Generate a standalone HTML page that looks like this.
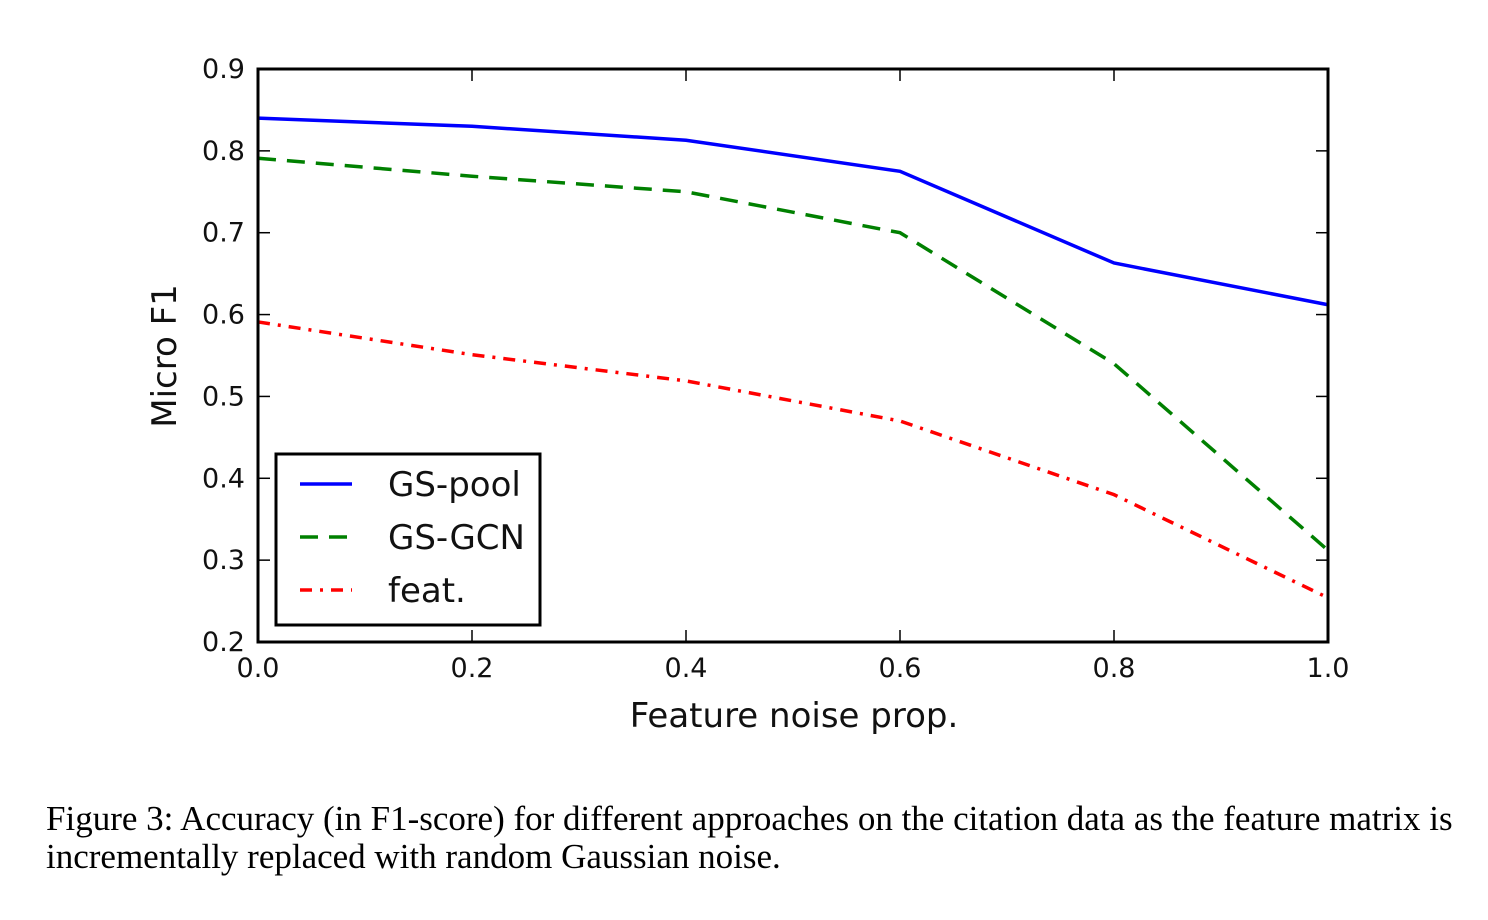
<!DOCTYPE html>
<html><head><meta charset="utf-8"><style>
body{margin:0;background:#fff;width:1488px;height:920px;overflow:hidden}
svg text{font-family:"DejaVu Sans","Liberation Sans",sans-serif;fill:#111}
.cap{position:absolute;left:46px;top:800px;font-family:"Liberation Serif",serif;font-size:35px;line-height:38px;color:#000;width:1430px;white-space:nowrap}
</style></head><body>
<svg id="chart" width="1488" height="920" style="position:absolute;left:0;top:0"></svg>
<div class="cap">Figure 3: Accuracy (in F1-score) for different approaches on the citation data as the feature matrix is<br>incrementally replaced with random Gaussian noise.</div>
<script>
const xVals=[0,0.2,0.4,0.6,0.8,1.0];
const gsPool=[0.840,0.830,0.813,0.775,0.663,0.612];
const gsGcn=[0.791,0.769,0.750,0.700,0.540,0.312];
const feat=[0.591,0.551,0.519,0.470,0.380,0.254];
const xTicks=["0.0","0.2","0.4","0.6","0.8","1.0"];
const yTicks=["0.2","0.3","0.4","0.5","0.6","0.7","0.8","0.9"];
const L=258,R=1328,T=69,B=642;
const sx=v=>L+(v-0)/(1-0)*(R-L);
const sy=v=>B-(v-0.2)/(0.9-0.2)*(B-T);
const svg=document.getElementById('chart');
const NS='http://www.w3.org/2000/svg';
function mk(tag,attrs,parent){const e=document.createElementNS(NS,tag);for(const k in attrs)e.setAttribute(k,attrs[k]);(parent||svg).appendChild(e);return e;}
xTicks.forEach((t,i)=>{const x=sx(parseFloat(t));
 const a=mk('line',{x1:x,x2:x,y1:B,y2:B-12,stroke:'#000','stroke-width':1.5});
 
 const b=mk('line',{x1:x,x2:x,y1:T,y2:T+12,stroke:'#000','stroke-width':1.5});
 
 const tx=mk('text',{x:x,y:677,'text-anchor':'middle','font-size':27});tx.textContent=t;
 });
yTicks.forEach(t=>{const y=sy(parseFloat(t));
 const a=mk('line',{x1:L,x2:L+12,y1:y,y2:y,stroke:'#000','stroke-width':1.5});
 
 const b=mk('line',{x1:R,x2:R-12,y1:y,y2:y,stroke:'#000','stroke-width':1.5});
 
 const tx=mk('text',{x:245,y:y+9,'text-anchor':'end','font-size':27});tx.textContent=t;
 });
function series(vals,color,dash,name){
 const p=mk('polyline',{points:xVals.map((x,i)=>sx(x)+','+sy(vals[i])).join(' '),fill:'none',stroke:color,'stroke-width':3.5,'stroke-dasharray':dash});
 }
series(gsPool,'#0000ff','none','gs-pool-line');
series(gsGcn,'#008000','18,11','gs-gcn-line');
series(feat,'#ff0000','12,8,3,8','feat-line');
const fr=mk('rect',{x:L,y:T,width:R-L,height:B-T,fill:'none',stroke:'#000','stroke-width':3});

const lg=mk('g',{});
mk('rect',{x:276,y:454,width:264,height:171,fill:'#fff',stroke:'#000','stroke-width':3},lg);
[['GS-pool','#0000ff','none',484],['GS-GCN','#008000','18,11',537],['feat.','#ff0000','12,8,3,8',590]].forEach(([n,c,d,y])=>{
 const g=mk('g',{},lg);
 mk('line',{x1:300,x2:352,y1:y,y2:y,stroke:c,'stroke-width':3.5,'stroke-dasharray':d},g);
 const t=mk('text',{x:388,y:y+12,'font-size':34},g);t.textContent=n;});
const xl=mk('text',{x:794,y:727,'text-anchor':'middle','font-size':34});xl.textContent='Feature noise prop.';

const yl=mk('text',{x:0,y:0,'text-anchor':'middle','font-size':34,transform:'translate(176,356) rotate(-90)'});yl.textContent='Micro F1';

</script>
</body></html>
